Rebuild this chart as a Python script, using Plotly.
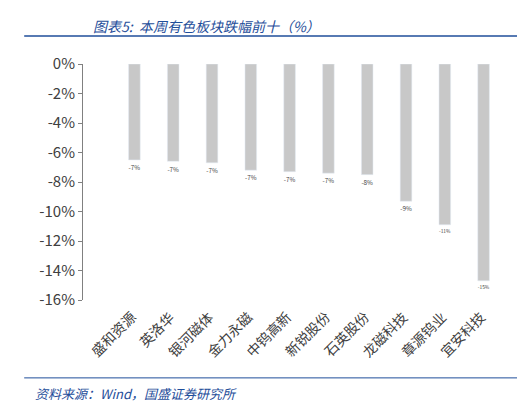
import plotly.graph_objects as go

stocks = ["盛和资源", "英洛华", "银河磁体", "金力永磁", "中钨高新", "新锐股份", "石英股份", "龙磁科技", "章源钨业", "宜安科技"]
changes = [-6.5, -6.6, -6.7, -7.2, -7.3, -7.4, -7.5, -9.3, -10.9, -14.7]
labels = ["-7%", "-7%", "-7%", "-7%", "-7%", "-7%", "-8%", "-9%", "-11%", "-15%"]
tick_vals = [0, -2, -4, -6, -8, -10, -12, -14, -16]

fig = go.Figure(go.Bar(
    x=stocks, y=changes, text=labels, textposition="outside",
    marker_color="#c8c8c8", width=0.3,
    textfont=dict(size=15, color="#404040"), cliponaxis=False,
))

fig.update_layout(
    width=525, height=402, plot_bgcolor="white", paper_bgcolor="white",
    margin=dict(l=75, r=30, t=56, b=110),
    font=dict(family="Noto Sans CJK SC", color="#404040"),
    showlegend=False,
)
fig.update_yaxes(range=[-16, 0], tickvals=tick_vals, ticktext=[f"{v}%" for v in tick_vals],
                 tickfont=dict(size=15), showgrid=False, zeroline=False,
                 showline=True, linecolor="#808080", ticks="outside", ticklen=4, tickcolor="#808080")
fig.update_xaxes(showline=False, ticks="", showticklabels=False)

# category labels at the bottom, rotated
for s in stocks:
    fig.add_annotation(x=s, y=-16, yref="y", text=s, showarrow=False, textangle=-45,
                       xanchor="right", yanchor="top", font=dict(size=14, color="#404040"),
                       xshift=8, yshift=-4)

fig.add_annotation(x=0.02, y=1.0, xref="paper", yref="paper", xanchor="left", yanchor="top",
                   text="<i>图表5:  本周有色板块跌幅前十（%）</i>", showarrow=False,
                   font=dict(size=14, color="#1f4e9a"), yshift=50)
fig.add_shape(type="line", xref="paper", yref="paper", x0=-0.14, x1=1.06, y0=1.119, y1=1.119,
              line=dict(color="#1f4e9a", width=1.5))
fig.add_shape(type="line", xref="paper", yref="paper", x0=-0.14, x1=1.06, y0=-0.33, y1=-0.33,
              line=dict(color="#1f4e9a", width=1))
fig.add_annotation(x=-0.12, y=0, xref="paper", yref="paper", xanchor="left", yanchor="top",
                   text="<i>资料来源：Wind，国盛证券研究所</i>", showarrow=False,
                   font=dict(size=13, color="#1f4e9a"), yshift=-82)
fig.write_html("out.html")
